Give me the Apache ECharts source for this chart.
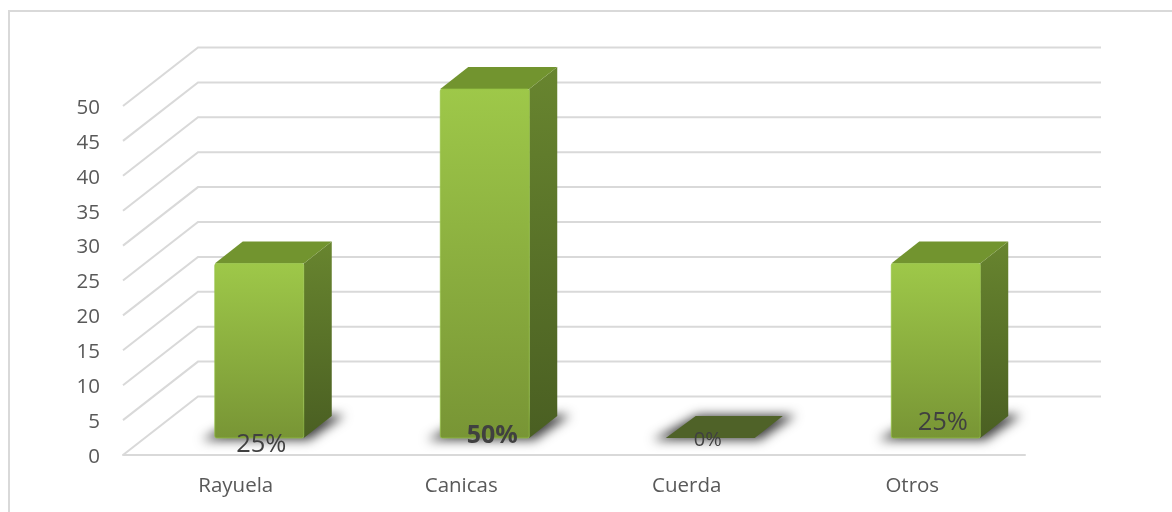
<!DOCTYPE html>
<html>
<head>
<meta charset="utf-8">
<style>html,body{margin:0;padding:0;background:#fff}#c{width:1172px;height:512px}</style>
<script src="https://cdn.jsdelivr.net/npm/echarts@6/dist/echarts.min.js"></script>
</head>
<body>
<div id="c"></div>
<script>
const categories = ['Rayuela', 'Canicas', 'Cuerda', 'Otros'];
const values = [25, 50, 0, 25];
const valueLabels = ['25%', '50%', '0%', '25%'];
const yTicks = [0, 5, 10, 15, 20, 25, 30, 35, 40, 45, 50];

const wallDx = 75, wallDy = -58.5, barDx = 23.5, barDy = -17, depthX = 28, depthY = -22, barW = 89;
const FONT = '"Open Sans", sans-serif';
const labelLook = [
  {dx: 25.5, dy: -10, font: '25.5px ' + FONT},
  {dx: 31, dy: -19, font: 'bold 25px ' + FONT},
  {dx: 21, dy: -15, font: '20px ' + FONT},
  {dx: 30.5, dy: -32, font: '25.5px ' + FONT}
];
const grad = (a, b) => new echarts.graphic.LinearGradient(0, 0, 0, 1, [{offset: 0, color: a}, {offset: 1, color: b}]);
const OFF = 3000;

const chart = echarts.init(document.getElementById('c'), null, {renderer: 'canvas'});
chart.setOption({
  animation: false,
  backgroundColor: '#fff',
  graphic: [{type: 'rect', shape: {x: 9, y: 11, width: 1200, height: 540},
    style: {fill: 'none', stroke: '#d9d9d9', lineWidth: 2}, z: -1, silent: true}],
  grid: {left: 123, right: 147, top: 106, bottom: 57},
  xAxis: {type: 'category', data: categories,
    axisLine: {lineStyle: {color: '#d9d9d9', width: 2}}, axisTick: {show: false},
    axisLabel: {color: '#595959', fontFamily: FONT, fontSize: 20.5, margin: 21}},
  yAxis: {type: 'value', min: 0, max: 50, interval: 5,
    axisLine: {show: false}, axisTick: {show: false}, splitLine: {show: false},
    axisLabel: {color: '#595959', fontFamily: FONT, fontSize: 20.5, margin: 23, verticalAlign: 'top', lineHeight: 4}},
  series: [
    {type: 'custom', coordinateSystem: 'cartesian2d', silent: true, z: 1, clip: false,
      data: yTicks.map(t => [0, t]),
      renderItem(params, api) {
        const cs = params.coordSys, y = api.coord([0, api.value(1)])[1], x0 = cs.x;
        const st = {stroke: '#d9d9d9', lineWidth: 2, fill: 'none'};
        return {type: 'polyline', shape: {points: [[x0, y], [x0 + wallDx, y + wallDy], [x0 + cs.width + wallDx + 1, y + wallDy]]}, style: st};
      }},
    {type: 'custom', coordinateSystem: 'cartesian2d', silent: true, z: 2, clip: false,
      data: values.map((v, i) => [i, v]),
      renderItem(params, api) {
        const i = api.value(0), v = api.value(1);
        const base = api.coord([i, 0]), top = api.coord([i, v]);
        const x0 = base[0] + barDx - barW / 2, x1 = x0 + barW;
        const yb = base[1] + barDy, yt = top[1] + barDy;
        const children = [];
        children.push({type: 'polygon', shape: {points: [
          [x0 - 13 - OFF, yb + 2], [x1 + 5 - OFF, yb + 2], [x1 + depthX + 13 - OFF, yb + depthY - 1], [x0 + depthX + 4 - OFF, yb + depthY - 1]]},
          style: {fill: '#000', shadowBlur: 11, shadowOffsetX: OFF, shadowColor: 'rgba(0,0,0,0.75)'}});
        if (v > 0) {
          children.push({type: 'polygon', shape: {points: [[x1, yt], [x1 + depthX, yt + depthY], [x1 + depthX, yb + depthY], [x1, yb]]},
            style: {fill: grad('#68852f', '#4a5f22')}});
          children.push({type: 'polygon', shape: {points: [[x0, yt], [x0 + depthX, yt + depthY], [x1 + depthX, yt + depthY], [x1, yt]]},
            style: {fill: '#72942f'}});
          children.push({type: 'rect', shape: {x: x0, y: yt, width: barW, height: yb - yt, r: 2},
            style: {fill: grad('#9ec849', '#789535'), stroke: 'rgba(150,195,70,0.7)', lineWidth: 1}});
        } else {
          children.push({type: 'polygon', shape: {points: [[x0, yb], [x1, yb], [x1 + depthX, yb + depthY], [x0 + depthX + 2, yb + depthY]]},
            style: {fill: '#4f6228'}});
        }
        const lk = labelLook[i];
        children.push({type: 'text', style: {text: valueLabels[i], x: base[0] + lk.dx, y: base[1] + lk.dy,
          align: 'center', verticalAlign: 'middle', font: lk.font, fill: '#404040'}});
        return {type: 'group', children};
      }}
  ]
});
</script>
</body>
</html>
